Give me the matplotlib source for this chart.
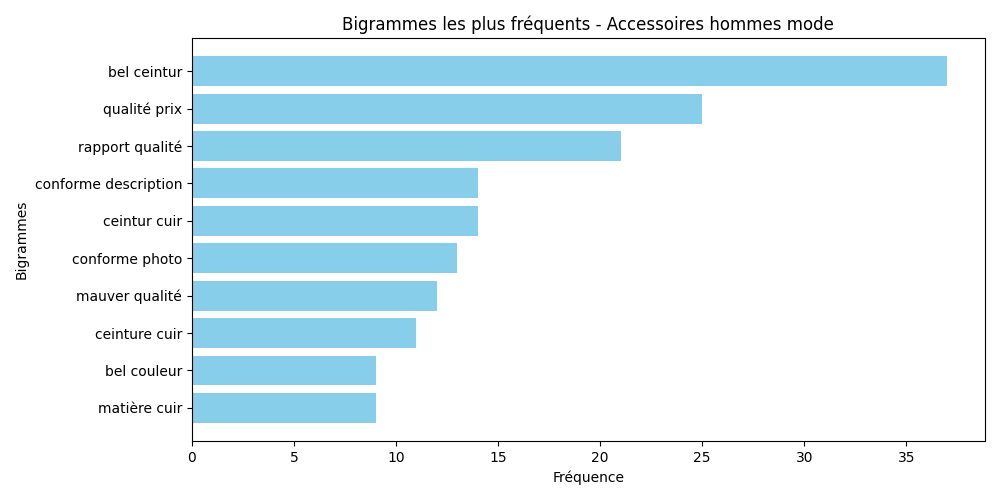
import matplotlib
matplotlib.use("Agg")
import matplotlib.pyplot as plt

bigrams = ["bel ceintur", "qualité prix", "rapport qualité", "conforme description",
           "ceintur cuir", "conforme photo", "mauver qualité", "ceinture cuir",
           "bel couleur", "matière cuir"]
counts = [37, 25, 21, 14, 14, 13, 12, 11, 9, 9]

fig, ax = plt.subplots(figsize=(10, 5), dpi=100)
ax.barh(bigrams[::-1], counts[::-1], color="skyblue")
ax.set_xlabel("Fréquence")
ax.set_ylabel("Bigrammes")
ax.set_title("Bigrammes les plus fréquents - Accessoires hommes mode")
plt.tight_layout()
fig.savefig("out.png")
